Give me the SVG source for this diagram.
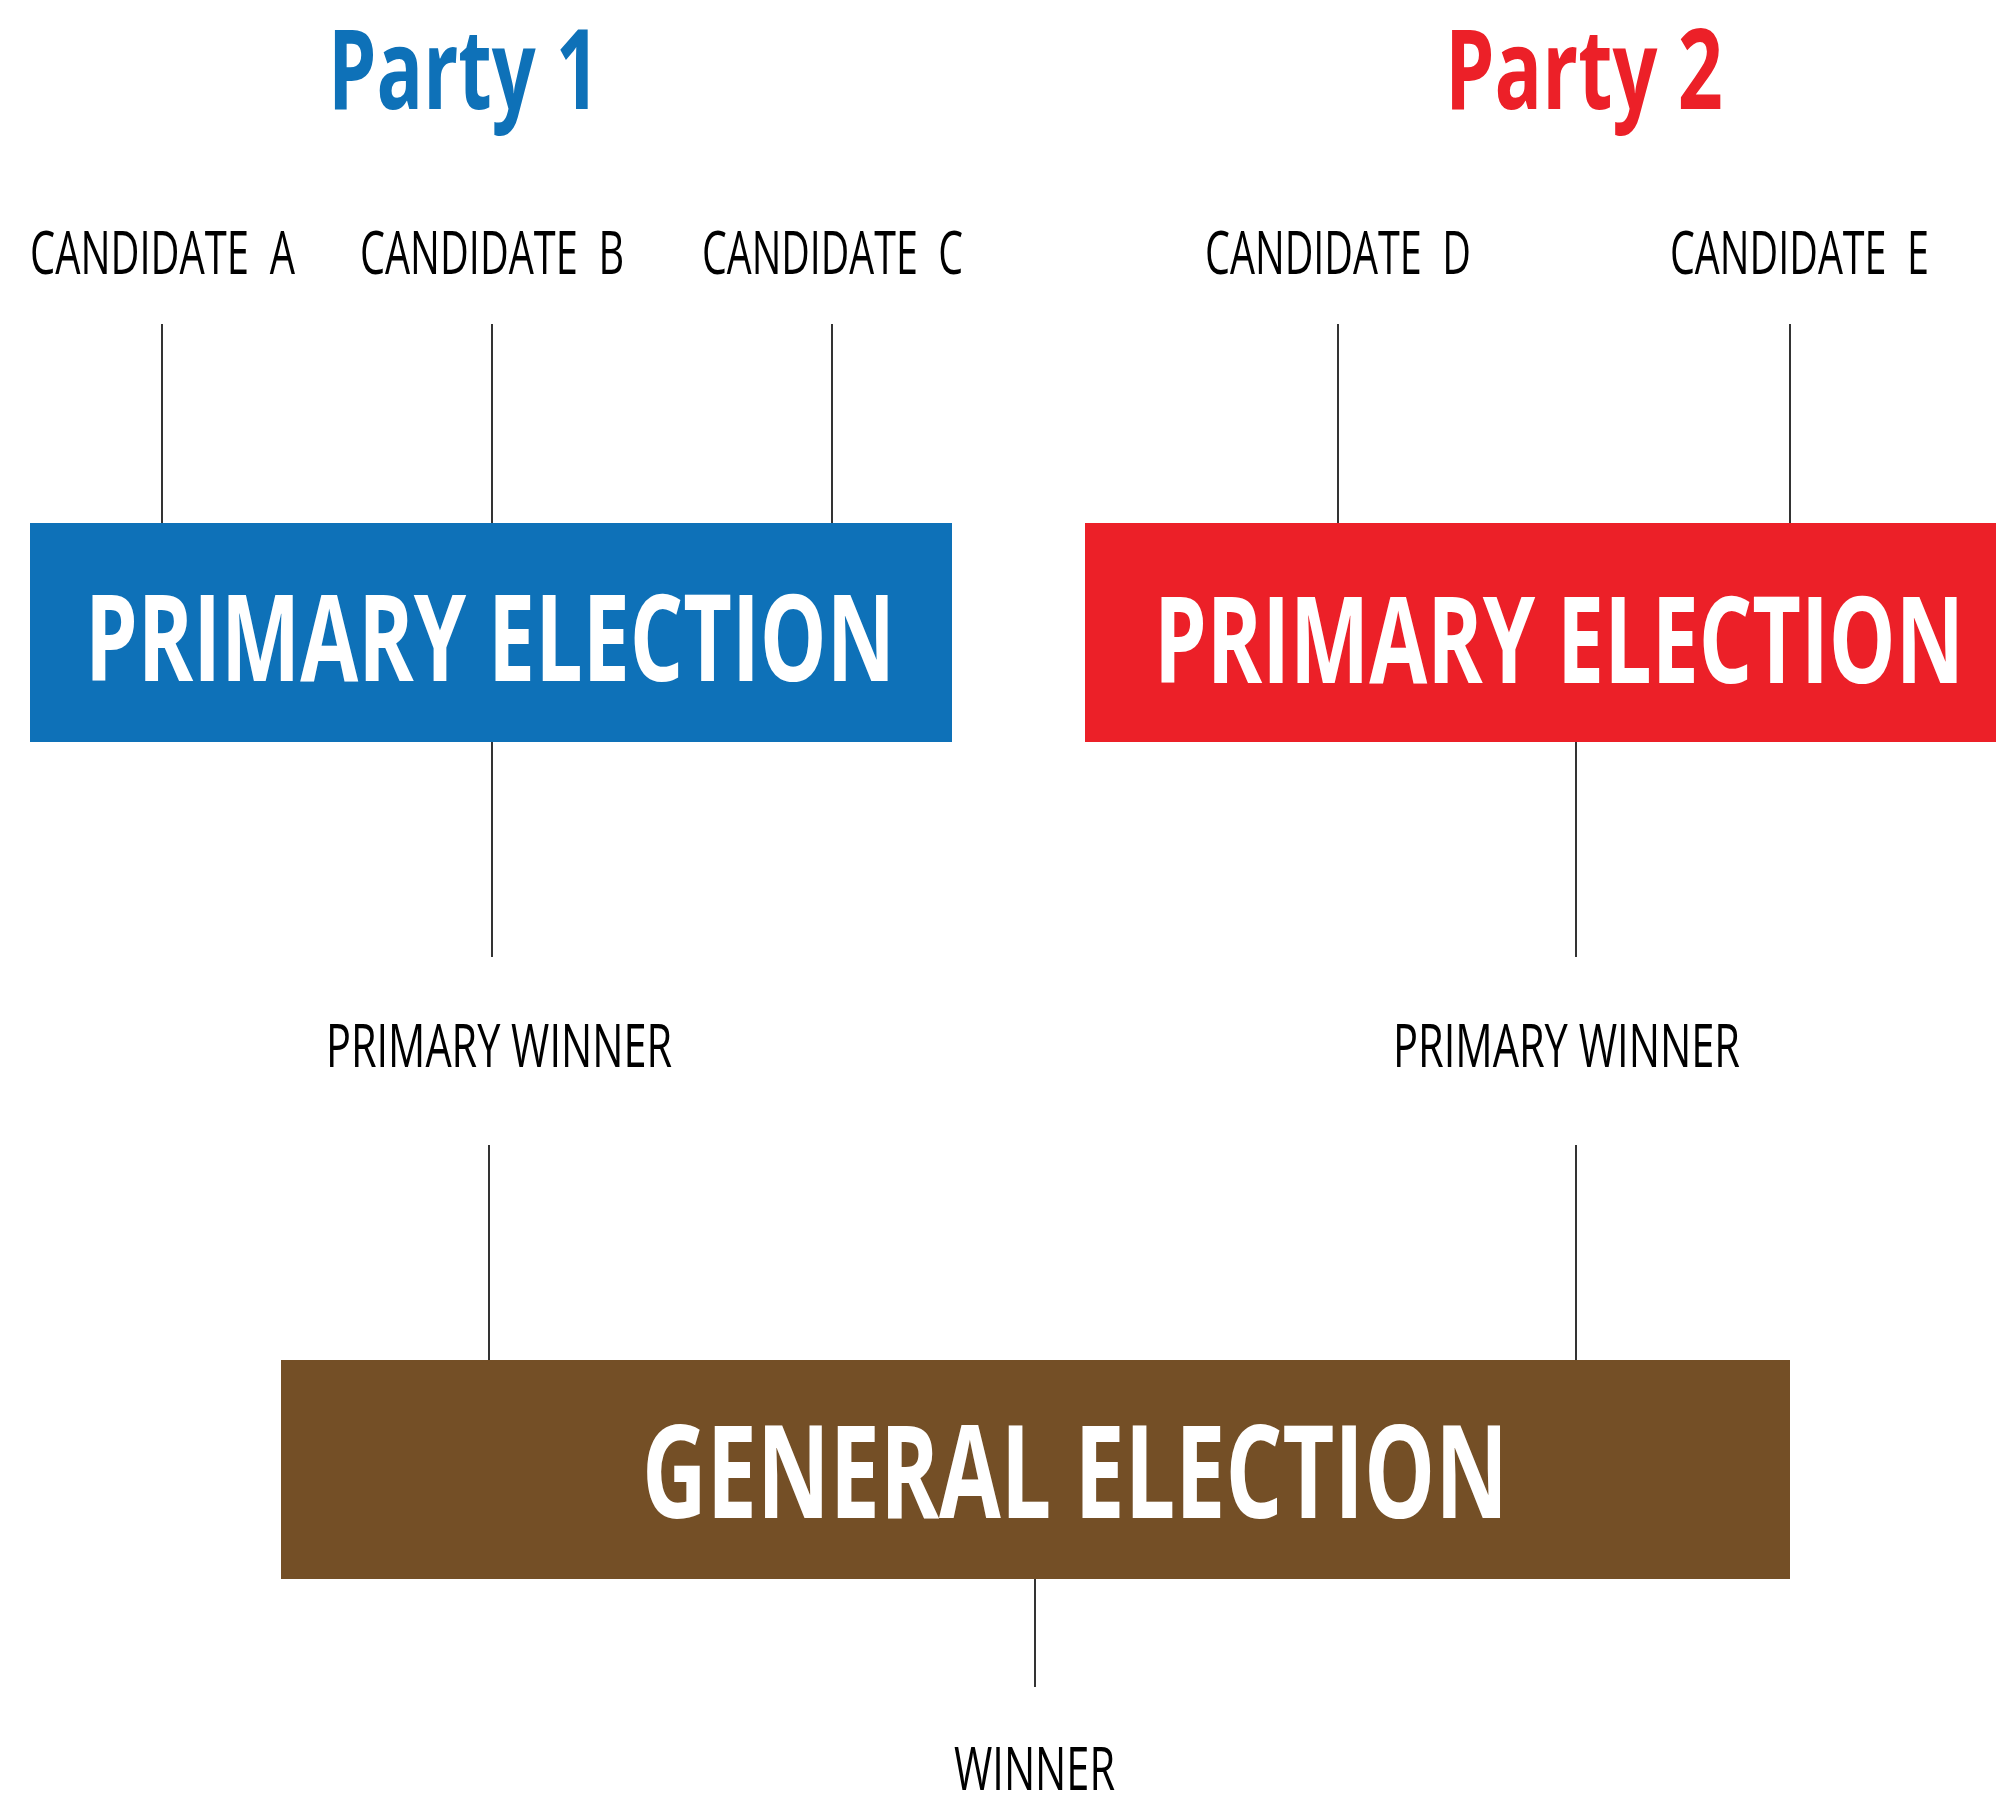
<svg xmlns="http://www.w3.org/2000/svg" width="1996" height="1796" viewBox="0 0 1996 1796">
<style>
.lbl{font-family:"Open Sans","Liberation Sans",sans-serif;font-weight:400;font-size:61px;fill:#000;white-space:pre}
.ttl{font-family:"Open Sans","Liberation Sans",sans-serif;font-weight:700;fill:#fff}
.party{font-family:"Open Sans","Liberation Sans",sans-serif;font-weight:700;font-size:111px}
.conn line{stroke:#000;stroke-width:1.6}
</style>
<rect width="1996" height="1796" fill="#fff"/>
<g id="party1"><text class="party" transform="translate(328,109) scale(0.75,1)" fill="#0e71b8" textLength="362.7" lengthAdjust="spacingAndGlyphs">Party 1</text></g>
<g id="party2"><text class="party" transform="translate(1445,109) scale(0.75,1)" fill="#ec2028" textLength="370.7" lengthAdjust="spacingAndGlyphs">Party 2</text></g>
<g id="candA"><text class="lbl" transform="translate(30,274) scale(0.65,1)" textLength="407.7" lengthAdjust="spacingAndGlyphs">CANDIDATE  A</text></g>
<g id="candB"><text class="lbl" transform="translate(360,274) scale(0.65,1)" textLength="406.2" lengthAdjust="spacingAndGlyphs">CANDIDATE  B</text></g>
<g id="candC"><text class="lbl" transform="translate(702,274) scale(0.65,1)" textLength="401.5" lengthAdjust="spacingAndGlyphs">CANDIDATE  C</text></g>
<g id="candD"><text class="lbl" transform="translate(1205,274) scale(0.65,1)" textLength="409.2" lengthAdjust="spacingAndGlyphs">CANDIDATE  D</text></g>
<g id="candE"><text class="lbl" transform="translate(1670,274) scale(0.65,1)" textLength="398.5" lengthAdjust="spacingAndGlyphs">CANDIDATE  E</text></g>
<g id="primary1"><rect x="30" y="523" width="922" height="219" fill="#0e71b8"/><text class="ttl" transform="translate(85,681) scale(0.8,1)" font-size="120" textLength="1012.5" lengthAdjust="spacingAndGlyphs">PRIMARY ELECTION</text></g>
<g id="primary2"><rect x="1085" y="523" width="911" height="219" fill="#ec2028"/><text class="ttl" transform="translate(1154,683) scale(0.8,1)" font-size="120" textLength="1012.5" lengthAdjust="spacingAndGlyphs">PRIMARY ELECTION</text></g>
<g id="winner1"><text class="lbl" transform="translate(326,1067) scale(0.7,1)" textLength="494.3" lengthAdjust="spacingAndGlyphs">PRIMARY WINNER</text></g>
<g id="winner2"><text class="lbl" transform="translate(1393,1067) scale(0.7,1)" textLength="495.7" lengthAdjust="spacingAndGlyphs">PRIMARY WINNER</text></g>
<g id="general"><rect x="281" y="1360" width="1509" height="219" fill="#744f26"/><text class="ttl" transform="translate(642,1518) scale(0.8,1)" font-size="129" textLength="1082.5" lengthAdjust="spacingAndGlyphs">GENERAL ELECTION</text></g>
<g id="winner"><text class="lbl" transform="translate(954,1790) scale(0.7,1)" textLength="230" lengthAdjust="spacingAndGlyphs">WINNER</text></g>
<g id="connectors" class="conn">
<line x1="162" y1="324" x2="162" y2="523"/>
<line x1="492" y1="324" x2="492" y2="523"/>
<line x1="832" y1="324" x2="832" y2="523"/>
<line x1="1338" y1="324" x2="1338" y2="523"/>
<line x1="1790" y1="324" x2="1790" y2="523"/>
<line x1="492" y1="742" x2="492" y2="957"/>
<line x1="1576" y1="742" x2="1576" y2="957"/>
<line x1="489" y1="1145" x2="489" y2="1360"/>
<line x1="1576" y1="1145" x2="1576" y2="1360"/>
<line x1="1035" y1="1579" x2="1035" y2="1687"/>
</g>
</svg>
